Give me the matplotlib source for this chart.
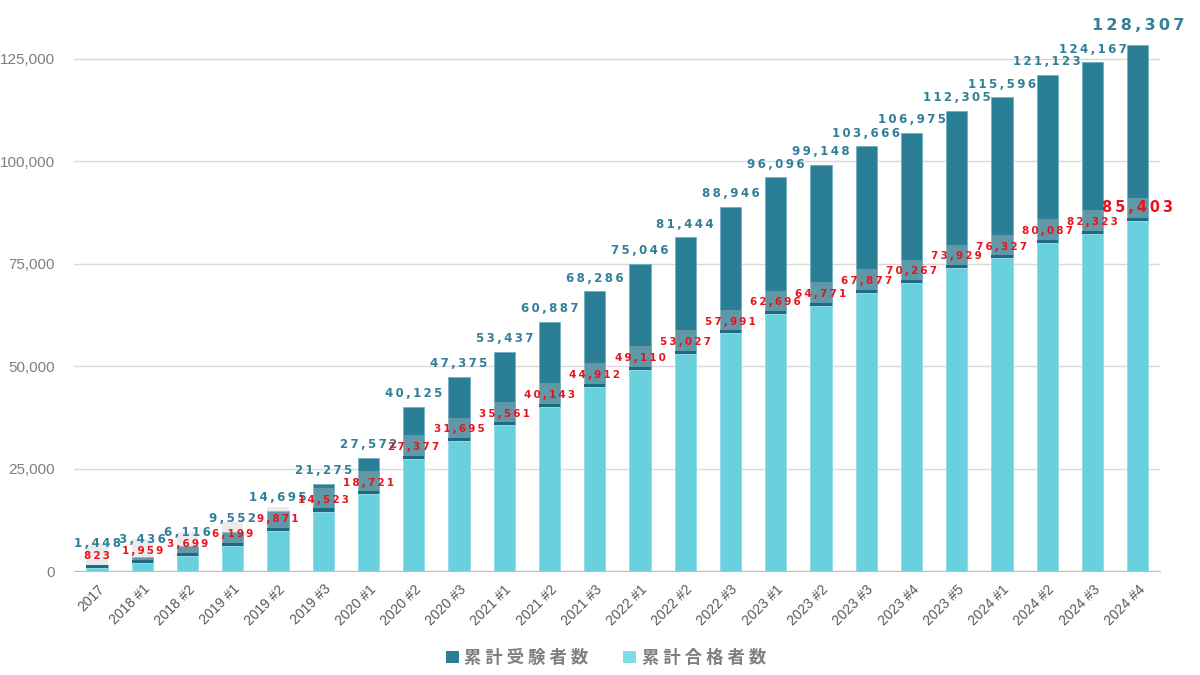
import numpy as np
import matplotlib
matplotlib.use("Agg")
import matplotlib.pyplot as plt
from matplotlib.patches import Patch

categories = ["2017", "2018 #1", "2018 #2", "2019 #1", "2019 #2", "2019 #3",
              "2020 #1", "2020 #2", "2020 #3", "2021 #1", "2021 #2", "2021 #3",
              "2022 #1", "2022 #2", "2022 #3", "2023 #1", "2023 #2", "2023 #3",
              "2023 #4", "2023 #5", "2024 #1", "2024 #2", "2024 #3", "2024 #4"]
examinees = [1448, 3436, 6116, 9552, 14695, 21275, 27572, 40125, 47375, 53437,
             60887, 68286, 75046, 81444, 88946, 96096, 99148, 103666, 106975,
             112305, 115596, 121123, 124167, 128307]
passers = [823, 1959, 3699, 6199, 9871, 14523, 18721, 27377, 31695, 35561,
           40143, 44912, 49110, 53027, 57991, 62696, 64771, 67877, 70267,
           73929, 76327, 80087, 82323, 85403]
yticks = [0, 25000, 50000, 75000, 100000, 125000]
legend_labels = ["累計受験者数", "累計合格者数"]

DARK = "#2a7f96"
DARK_TXT = "#327f99"
CYAN = "#69d0dd"
CYAN_LEG = "#7fdde8"
STRIPE = "#1f6a7f"
RED = "#e8141c"
GREY = "#7f7f7f"

def spaced(v):
    return "\u2009".join(f"{v:,}")

fig = plt.figure(figsize=(12, 6.75), dpi=100)
ax = fig.add_axes([0.062, 0.154, 0.905, 0.82])
x = np.arange(len(categories))
w = 0.47
n = len(categories)

ax.bar(x, examinees, width=w, color=DARK, edgecolor="#6fb0c2", linewidth=0.6,
       zorder=2)
ax.bar(x, passers, width=w, color=CYAN, edgecolor="#9fe3ec", linewidth=0.6,
       zorder=3)
stripe_h = 750
box_h = 5000
ax.bar(x, [stripe_h] * n, bottom=passers, width=w, color=STRIPE, zorder=4,
       linewidth=0)
ax.bar(x, [box_h] * n, bottom=np.array(passers) + stripe_h, width=w,
       color="#c8c8c8", alpha=0.35, zorder=4, linewidth=0)

last = n - 1
for i in range(n):
    big = (i == last)
    ax.annotate(spaced(passers[i]), xy=(i, passers[i]),
                xytext=(0, 10 if big else 8.5), textcoords="offset points",
                ha="center", va="center", color=RED,
                fontsize=10.5 if big else 7.5, fontweight="bold",
                family="DejaVu Sans", zorder=6)
    base = max(examinees[i], passers[i] + 2600)
    ax.annotate(spaced(examinees[i]), xy=(i, base),
                xytext=(0, 14 if big else 9.5), textcoords="offset points",
                ha="center", va="center", color=DARK_TXT,
                fontsize=11.5 if big else 8.5, fontweight="bold",
                family="DejaVu Sans", zorder=6)

ax.set_xlim(-0.5, n - 0.5)
ax.set_ylim(0, 135100)
ax.set_yticks(yticks)
ax.set_yticklabels([f"{t:,}" for t in yticks], color=GREY, fontsize=11,
                   family="Liberation Sans")
ax.set_xticks(x)
ax.set_xticklabels(categories, rotation=45, ha="right", rotation_mode="anchor",
                   color="#595959", fontsize=10, family="Liberation Sans")
ax.tick_params(axis="both", length=0)
ax.tick_params(axis="x", pad=8)
ax.tick_params(axis="y", pad=14)
ax.grid(axis="y", color="#d9d9d9", linewidth=1, zorder=0)
ax.set_axisbelow(True)
for s in ["top", "right", "left"]:
    ax.spines[s].set_visible(False)
ax.spines["bottom"].set_color("#bfbfbf")
ax.spines["bottom"].set_zorder(5)

handles = [Patch(facecolor=DARK, edgecolor="none"),
           Patch(facecolor=CYAN_LEG, edgecolor="none")]
leg = fig.legend(handles, [" ".join(l) for l in legend_labels],
                 loc="center", bbox_to_anchor=(0.505, 0.025), ncol=2,
                 frameon=False, handlelength=0.75, handleheight=0.75,
                 handletextpad=0.3, columnspacing=2.0,
                 prop={"family": ["Noto Sans CJK JP", "DejaVu Sans"],
                       "size": 12.5, "weight": "bold"})
for t in leg.get_texts():
    t.set_color(GREY)

fig.savefig("out.png", dpi=100)
